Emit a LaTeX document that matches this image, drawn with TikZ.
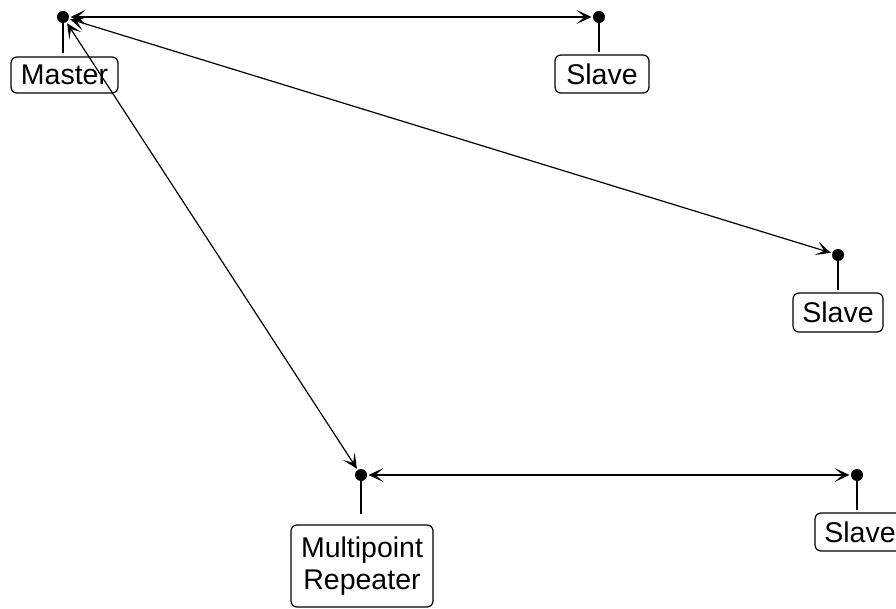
\documentclass[tikz,border=0pt]{standalone}
\usepackage{fontspec}
\setmainfont{Liberation Sans}
\usetikzlibrary{arrows.meta}
\begin{document}
\begin{tikzpicture}[x=1pt,y=-1pt,
  dot/.style={circle,fill=black,inner sep=0pt,minimum size=12pt,outer sep=1.5pt},
  box/.style={draw,rounded corners=6pt,line width=1.2pt,inner sep=0pt,align=center,
    font=\fontsize{28.5}{32}\selectfont},
  stem/.style={line width=1.3pt},
  link/.style={line width=1.2pt,{Stealth[length=15pt,width=14pt,inset=8pt]}-{Stealth[length=15pt,width=14pt,inset=8pt]}}]
\useasboundingbox (0,0) rectangle (896,609);
% dots
\node[dot] (dm) at (63,17) {};
\node[dot] (ds1) at (599,17) {};
\node[dot] (ds2) at (838,255) {};
\node[dot] (dr) at (361,475) {};
\node[dot] (ds3) at (857,475) {};
% boxes
\node[box,minimum width=107pt,minimum height=36pt] (bm) at (64.5,75) {Master};
\node[box,minimum width=94pt,minimum height=38pt] (bs1) at (602,74) {Slave};
\node[box,minimum width=90pt,minimum height=39pt] (bs2) at (838,312.5) {Slave};
\node[box,minimum width=142pt,minimum height=82pt] (br) at (362,566) {Multipoint\\Repeater};
\node[box,minimum width=90pt,minimum height=38pt] (bs3) at (860,532) {Slave};
% stems
\draw[stem] (dm.center) -- ([yshift=3pt]bm.north -| dm);
\draw[stem] (ds1.center) -- ([yshift=2pt]bs1.north -| ds1);
\draw[stem] (ds2.center) -- ([yshift=2pt]bs2.north -| ds2);
\draw[stem] (dr.center) -- ([yshift=10pt]br.north -| dr);
\draw[stem] (ds3.center) -- ([yshift=2pt]bs3.north -| ds3);
% links
\draw[link] (dm) -- (ds1);
\draw[link] (dm) -- (ds2);
\draw[link] (dm) -- (dr);
\draw[link] (dr) -- (ds3);
\end{tikzpicture}
\end{document}
